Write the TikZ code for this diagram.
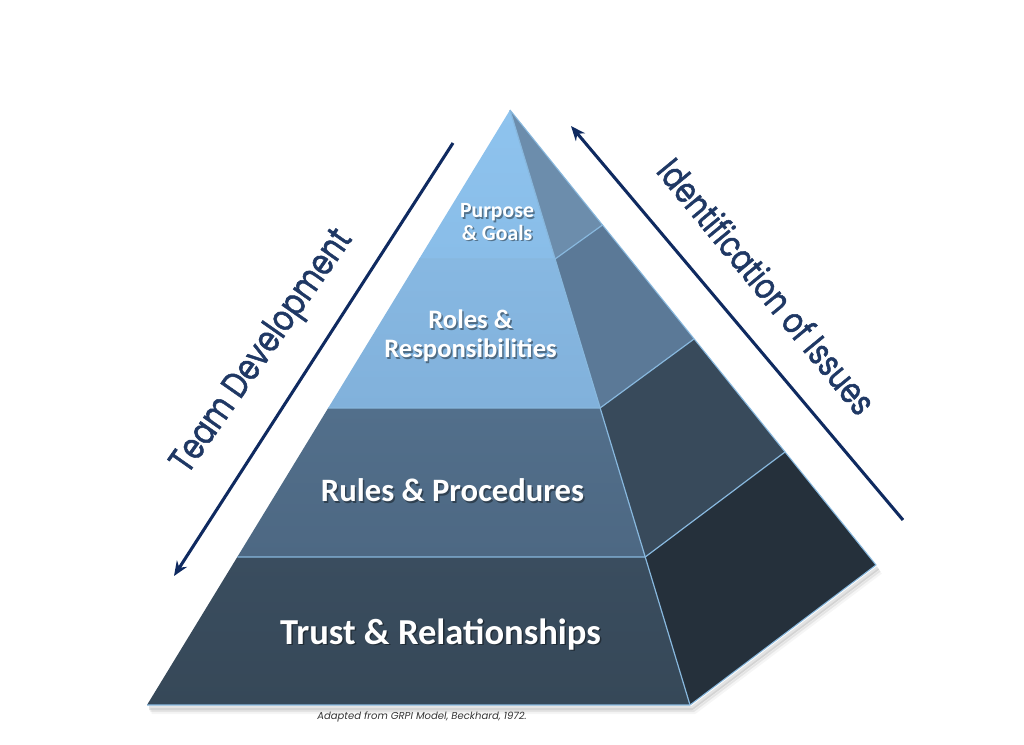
\documentclass[tikz,border=0pt]{standalone}
\usepackage{fontspec}
\setmainfont{Carlito}
\newfontfamily\gothic{Poppins}
\newfontfamily\gothicm[FakeBold=1.6]{Poppins}
\usetikzlibrary{arrows.meta}
\definecolor{fA}{HTML}{8EC3EE}
\definecolor{fAb}{HTML}{89BDE8}
\definecolor{fB}{HTML}{87B8E2}
\definecolor{fBb}{HTML}{81B1DB}
\definecolor{fC}{HTML}{526F8B}
\definecolor{fCb}{HTML}{4D6883}
\definecolor{fD}{HTML}{3A4D5F}
\definecolor{fDb}{HTML}{364858}
\definecolor{sA}{HTML}{6C8DAC}
\definecolor{sB}{HTML}{5B7997}
\definecolor{sC}{HTML}{384A5B}
\definecolor{sD}{HTML}{25303B}
\definecolor{edge}{HTML}{88B8DE}
\definecolor{navy}{HTML}{0F2A60}
\definecolor{labnavy}{HTML}{1F3864}
\begin{document}
\begin{tikzpicture}[x=0.75pt,y=-0.75pt,
  face/.style={draw=edge,line width=1.1pt,line join=round},
  arr/.style={draw=navy,line width=2.3pt,-{Stealth[length=11pt,width=9pt]}},
  lab/.style={text=white,align=center,inner sep=0pt,font=\bfseries},
  labsh/.style={text=black,text opacity=0.4,align=center,inner sep=0pt,font=\bfseries},
  side/.style={text=labnavy,inner sep=0pt}]
\useasboundingbox (0,0) rectangle (1024,745);
% key points
\coordinate (A) at (510,110);
\coordinate (L1) at (419.1,259); \coordinate (R1) at (555.1,259); \coordinate (B1) at (602.5,225);
\coordinate (L2) at (328.2,408); \coordinate (R2) at (600.1,408); \coordinate (B2) at (694,339);
\coordinate (L3) at (237.3,557); \coordinate (R3) at (645.2,557); \coordinate (B3) at (785,452);
\coordinate (L4) at (147,705);   \coordinate (R4) at (690,705);   \coordinate (B4) at (876,565);
% soft shadow under base
\foreach \o/\op in {7/0.04,5/0.07,3/0.11}{
  \draw[black,opacity=\op,line width=3pt,line join=round] ([xshift=\o*0.5pt,yshift=-\o*0.75pt]L4) -- ([xshift=\o*0.5pt,yshift=-\o*0.75pt]R4) -- ([xshift=\o*0.5pt,yshift=-\o*0.75pt]B4);
}
% front faces
\shade[top color=fA,bottom color=fAb] (A) -- (L1) -- (R1) -- cycle;
\shade[top color=fB,bottom color=fBb] (L1) -- (L2) -- (R2) -- (R1) -- cycle;
\shade[top color=fC,bottom color=fCb] (L2) -- (L3) -- (R3) -- (R2) -- cycle;
\shade[top color=fD,bottom color=fDb] (L3) -- (L4) -- (R4) -- (R3) -- cycle;
% right faces
\fill[sA] (A) -- (R1) -- (B1) -- cycle;
\fill[sB] (R1) -- (R2) -- (B2) -- (B1) -- cycle;
\fill[sC] (R2) -- (R3) -- (B3) -- (B2) -- cycle;
\fill[sD] (R3) -- (R4) -- (B4) -- (B3) -- cycle;
% edges
\draw[draw=edge,line width=0.9pt] (L1) -- (R1) -- (B1);
\draw[draw=edge,line width=0.9pt] (L2) -- (R2) -- (B2);
\draw[draw=edge,line width=0.9pt] (L3) -- (R3) -- (B3);
\draw[draw=edge,line width=0.9pt] (A) -- (R4);
\draw[draw=edge,line width=0.8pt,line join=round] (L4) -- (R4) -- (B4) -- (A);
% layer labels
\node[labsh,font=\bfseries\fontsize{16.3pt}{17pt}\selectfont] (p1s) at (498.5,223.5) {Purpose\\\& Goals};
\node[lab,font=\bfseries\fontsize{16.3pt}{17pt}\selectfont] (p1) at (497,222) {Purpose\\\& Goals};
\node[labsh,font=\bfseries\fontsize{20pt}{22pt}\selectfont] (p2s) at (472,337.5) {Roles \&\\Responsibilities};
\node[lab,font=\bfseries\fontsize{20pt}{22pt}\selectfont] (p2) at (470.5,336) {Roles \&\\Responsibilities};
\node[labsh,font=\bfseries\fontsize{24.5pt}{26pt}\selectfont] (p3s) at (454,492) {Rules \& Procedures};
\node[lab,font=\bfseries\fontsize{24.5pt}{26pt}\selectfont] (p3) at (452.5,490.5) {Rules \& Procedures};
\node[labsh,font=\bfseries\fontsize{27.4pt}{29pt}\selectfont] (p4s) at (442,636) {Trust \& Relationships};
\node[lab,font=\bfseries\fontsize{27.4pt}{29pt}\selectfont] (p4) at (440.5,634.5) {Trust \& Relationships};
% arrows
\coordinate (ls) at (453,143);
\coordinate (le) at (174,576);
\coordinate (rs) at (903,520);
\coordinate (re) at (571,126);
\draw[arr] (ls) -- (le);
\draw[arr] (rs) -- (re);
% side labels
\node[side,rotate=55] (td) at (263,352) {\scalebox{1}[1.25]{\resizebox{216pt}{!}{\gothicm Team Development}}};
\node[side,rotate=-50.5] (ii) at (767,286) {\scalebox{1}[1.25]{\resizebox{239pt}{!}{\gothicm Identification of Issues}}};
% caption
\node[text=black!80,inner sep=0pt] (cap) at (422,717) {\resizebox{157pt}{!}{\gothic\itshape Adapted from GRPI Model, Beckhard, 1972.}};
\end{tikzpicture}
\end{document}
